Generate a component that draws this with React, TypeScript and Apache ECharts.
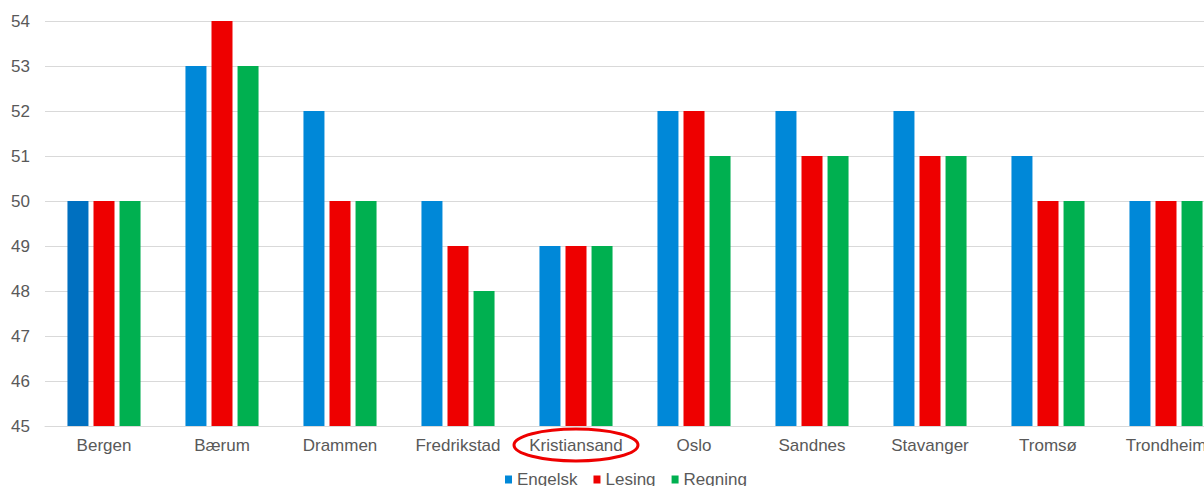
import React, { useEffect, useRef } from "react";
import * as echarts from "echarts";

const categories = ["Bergen", "Bærum", "Drammen", "Fredrikstad", "Kristiansand", "Oslo", "Sandnes", "Stavanger", "Tromsø", "Trondheim"];
const engelsk = [50, 53, 52, 50, 49, 52, 52, 52, 51, 50];
const lesing = [50, 54, 50, 49, 49, 52, 51, 51, 50, 50];
const regning = [50, 53, 50, 48, 49, 51, 51, 51, 50, 50];
const highlighted = "Kristiansand";

export default function App() {
  const ref = useRef<HTMLDivElement>(null);
  useEffect(() => {
    document.body.style.overflow = "hidden";
    const el = ref.current!;
    const chart = echarts.init(el, null, { renderer: "svg" });
    const font = "'Liberation Sans', Arial, sans-serif";
    const txt = "#595959";
    chart.setOption({
      animation: false,
      textStyle: { fontFamily: font },
      grid: { left: 45, right: 5, top: 21, bottom: 60, containLabel: false },
      legend: {
        left: 500,
        top: 466,
        itemWidth: 7,
        itemHeight: 8,
        itemGap: 16,
        icon: "rect",
        textStyle: { color: txt, fontSize: 17, fontFamily: font },
        data: ["Engelsk", "Lesing", "Regning"],
      },
      xAxis: {
        type: "category",
        data: categories,
        axisLine: { lineStyle: { color: "#d9d9d9" } },
        axisTick: { show: false },
        axisLabel: { color: txt, fontSize: 17, margin: 11, fontFamily: font, interval: 0 },
      },
      yAxis: {
        type: "value",
        min: 45,
        max: 54,
        interval: 1,
        axisLine: { show: false },
        axisTick: { show: false },
        axisLabel: { color: txt, fontSize: 17, margin: 15, fontFamily: font },
        splitLine: { lineStyle: { color: "#d9d9d9" } },
      },
      series: [
        {
          name: "Engelsk",
          type: "bar",
          data: engelsk.map((v, i) => (i === 0 ? { value: v, itemStyle: { color: "#0070C0" } } : v)),
          itemStyle: { color: "#0088D8" },
          barWidth: 21,
          barGap: "24%",
        },
        { name: "Lesing", type: "bar", data: lesing, itemStyle: { color: "#EE0000" }, barWidth: 21, barGap: "24%" },
        { name: "Regning", type: "bar", data: regning, itemStyle: { color: "#00B050" }, barWidth: 21, barGap: "24%" },
      ],
    });
    const idx = categories.indexOf(highlighted);
    const px = chart.convertToPixel({ xAxisIndex: 0 }, idx) as number;
    chart.setOption({
      graphic: [
        {
          type: "ellipse",
          shape: { cx: px, cy: 445, rx: 62, ry: 16 },
          style: { fill: "none", stroke: "#EE0000", lineWidth: 3 },
          z: 100,
        },
      ],
    });
    return () => chart.dispose();
  }, []);
  return (
    <div
      ref={ref}
      style={{ position: "fixed", left: 0, top: 0, width: 1230, height: 486, background: "#fff" }}
    />
  );
}
